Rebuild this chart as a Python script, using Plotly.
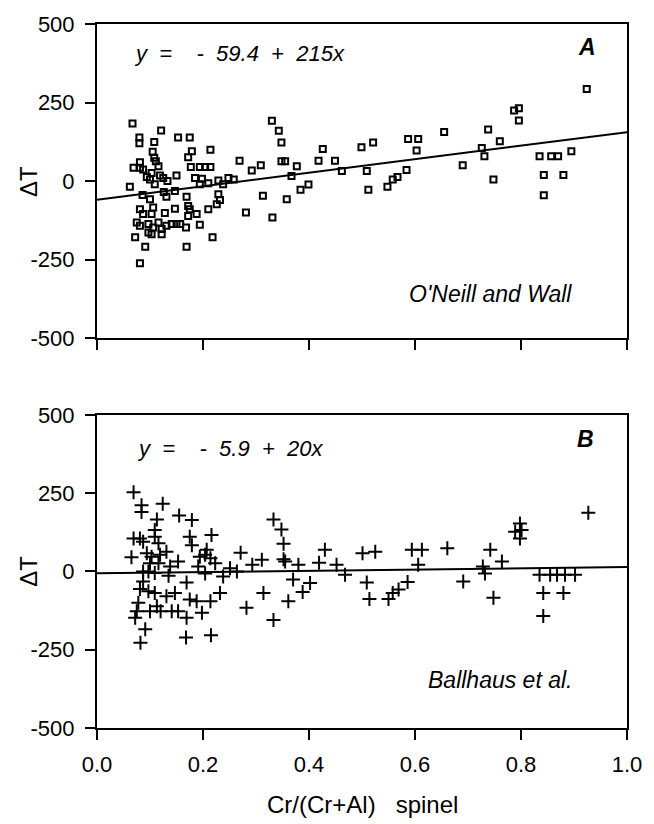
import plotly.graph_objects as go

# ---- data: panel A (O'Neill and Wall) ----
a_x = [0.067,0.121,0.080,0.080,0.108,0.153,0.175,0.105,0.179,0.172,0.214,0.081,0.108,0.111,0.069,0.081,0.087,0.116,
       0.177,0.194,0.204,0.214,0.103,0.094,0.100,0.119,0.125,0.133,0.150,0.109,0.062,0.185,0.198,0.194,0.210,0.229,
       0.238,0.248,0.258,0.269,0.292,0.309,0.086,0.100,0.126,0.131,0.147,0.169,0.172,0.229,0.232,0.226,0.210,0.081,
       0.087,0.106,0.103,0.128,0.147,0.175,0.172,0.188,0.075,0.081,0.097,0.106,0.116,0.122,0.131,0.141,0.150,0.157,
       0.168,0.194,0.097,0.103,0.122,0.072,0.218,0.091,0.169,0.081,0.313,0.281,
       0.330,0.343,0.348,0.426,0.348,0.355,0.377,0.418,0.449,0.462,0.367,0.399,0.384,0.358,0.331,0.499,0.521,0.509,
       0.512,0.548,0.558,0.567,0.584,0.587,0.606,0.603,0.655,
       0.924,0.787,0.796,0.796,0.738,0.760,0.726,0.731,0.690,0.748,0.835,0.857,0.870,0.895,0.843,0.880,0.843]
a_y = [183,161,139,120,124,139,139,93,95,76,100,60,74,63,42,42,37,47,
       45,45,45,45,26,13,5,18,10,0,18,-10,-18,10,7,-10,-7,2,
       -10,10,5,65,34,50,-44,-58,-35,-50,-32,-50,-79,-42,-60,-74,-90,-90,
       -105,-84,-105,-102,-88,-90,-111,-105,-132,-142,-137,-148,-132,-153,-142,-137,-137,-137,
       -148,-139,-164,-169,-169,-179,-179,-209,-209,-262,-47,-100,
       192,160,123,102,63,63,47,65,65,32,16,-11,-28,-58,-116,108,123,32,
       -28,-18,5,13,35,134,134,97,156,
       293,225,232,193,164,127,105,79,50,5,79,79,79,95,19,19,-45]
a_intercept, a_slope = -59.4, 215

# ---- data: panel B (Ballhaus et al.) ----
b_x = [0.069,0.084,0.084,0.124,0.155,0.179,0.113,0.109,0.069,0.081,0.087,0.109,0.116,0.175,0.179,0.216,0.065,0.094,
       0.103,0.119,0.131,0.100,0.116,0.153,0.138,0.207,0.194,0.204,0.214,0.223,0.191,0.271,0.293,0.311,0.251,0.264,
       0.087,0.097,0.109,0.204,0.238,0.087,0.169,0.135,0.081,0.097,0.109,0.147,0.232,0.314,0.131,0.175,0.188,0.214,
       0.078,0.113,0.075,0.100,0.120,0.141,0.153,0.198,0.169,0.072,0.282,0.091,0.082,0.168,0.215,
       0.333,0.348,0.352,0.352,0.355,0.380,0.370,0.419,0.430,0.452,0.468,0.402,0.388,0.361,0.333,0.501,0.525,0.509,
       0.514,0.550,0.558,0.569,0.586,0.594,0.613,0.606,0.661,
       0.927,0.798,0.789,0.801,0.798,0.742,0.764,0.728,0.732,0.691,0.748,0.835,0.855,0.868,0.883,0.902,0.842,0.880,0.842]
b_y = [253,211,190,216,179,164,166,132,105,105,95,111,90,111,84,116,45,58,
       47,53,63,26,26,32,16,69,47,53,42,26,16,60,21,37,10,0,
       0,0,-5,-7,-16,-32,-35,-14,-56,-63,-69,-69,-69,-69,-79,-90,-95,-95,
       -100,-111,-127,-127,-127,-127,-127,-132,-148,-148,-116,-185,-228,-211,-204,
       166,134,88,39,32,21,-26,28,69,21,-11,-37,-66,-95,-155,58,63,-35,
       -88,-88,-69,-58,-34,69,69,21,74,
       187,153,127,132,105,69,32,16,-7,-32,-84,-11,-11,-11,-11,-11,-69,-69,-142]
b_intercept, b_slope = -5.9, 20

x_ticks = [0.0, 0.2, 0.4, 0.6, 0.8, 1.0]
x_ticklabels = ["0.0", "0.2", "0.4", "0.6", "0.8", "1.0"]
y_ticks = [-500, -250, 0, 250, 500]
y_ticklabels = ["-500", "-250", "0", "250", "500"]

FONT = "Arial, 'Liberation Sans', Helvetica, sans-serif"
NB = "\u00a0"

fig = go.Figure()
fig.add_trace(go.Scatter(x=a_x, y=a_y, mode="markers", xaxis="x", yaxis="y",
                         marker=dict(symbol="square-open", size=6, color="black", line=dict(width=2, color="black")),
                         showlegend=False))
fig.add_trace(go.Scatter(x=[0, 1], y=[a_intercept, a_intercept + a_slope], mode="lines", xaxis="x", yaxis="y",
                         line=dict(color="black", width=2), showlegend=False))
fig.add_trace(go.Scatter(x=b_x, y=b_y, mode="markers", xaxis="x2", yaxis="y2",
                         marker=dict(symbol="cross-thin-open", size=10, color="black", line=dict(width=2, color="black")),
                         showlegend=False))
fig.add_trace(go.Scatter(x=[0, 1], y=[b_intercept, b_intercept + b_slope], mode="lines", xaxis="x2", yaxis="y2",
                         line=dict(color="black", width=2), showlegend=False))

axis_common = dict(showgrid=False, zeroline=False, showline=True, linecolor="black", linewidth=2,
                   mirror=True, ticks="outside", ticklen=10, tickwidth=2, tickcolor="black",
                   ticklabelstandoff=6,
                   tickfont=dict(family=FONT, size=22, color="black"))

fig.update_layout(
    width=654, height=824,
    margin=dict(l=97, r=24, t=22, b=96),
    paper_bgcolor="white", plot_bgcolor="white",
    xaxis=dict(domain=[0, 1], anchor="y", range=[0, 1], tickvals=x_ticks, ticktext=x_ticklabels,
               showticklabels=False, **axis_common),
    yaxis=dict(domain=[0.5538, 1], anchor="x", range=[-500, 500], tickvals=y_ticks, ticktext=y_ticklabels,
               **axis_common),
    xaxis2=dict(domain=[0, 1], anchor="y2", range=[0, 1], tickvals=x_ticks, ticktext=x_ticklabels,
                **axis_common),
    yaxis2=dict(domain=[0, 0.4448], anchor="x2", range=[-500, 500], tickvals=y_ticks, ticktext=y_ticklabels,
                **axis_common),
)

def eq(a, b):
    return "<i>y" + NB*2 + "=" + NB*4 + "-" + NB*2 + a + NB*2 + "+" + NB*2 + b + "x</i>"

ann_font = dict(family=FONT, size=22, color="black")
lab_font = dict(family=FONT, size=23, color="black")
let_font = dict(family=FONT, size=23, color="black")
anns = [
    dict(x=0.0657, y=0.9575, text=eq("59.4", "215"), xanchor="left", yanchor="middle", font=ann_font),
    dict(x=0.925, y=0.967, text="<b><i>A</i></b>", xanchor="center", yanchor="middle", font=let_font),
    dict(x=0.9006, y=0.616, text="<i>O'Neill and Wall</i>", xanchor="right", yanchor="middle", font=lab_font),
    dict(x=0.0713, y=0.3966, text=eq("5.9", "20"), xanchor="left", yanchor="middle", font=ann_font),
    dict(x=0.921, y=0.411, text="<b><i>B</i></b>", xanchor="center", yanchor="middle", font=let_font),
    dict(x=0.9006, y=0.068, text="<i>Ballhaus et al.</i>", xanchor="right", yanchor="middle", font=lab_font),
    dict(x=-0.1295, y=0.776, text="ΔT", textangle=-90, xanchor="center", yanchor="middle", font=dict(family=FONT, size=24, color="black")),
    dict(x=-0.1295, y=0.2224, text="ΔT", textangle=-90, xanchor="center", yanchor="middle", font=dict(family=FONT, size=24, color="black")),
    dict(x=0.5, y=-0.108, text="Cr/(Cr+Al)" + NB*3 + "spinel", xanchor="center", yanchor="middle", font=dict(family=FONT, size=24, color="black")),
]
for a in anns:
    a.update(xref="paper", yref="paper", showarrow=False)
fig.update_layout(annotations=anns)

fig.write_html("out.html")
